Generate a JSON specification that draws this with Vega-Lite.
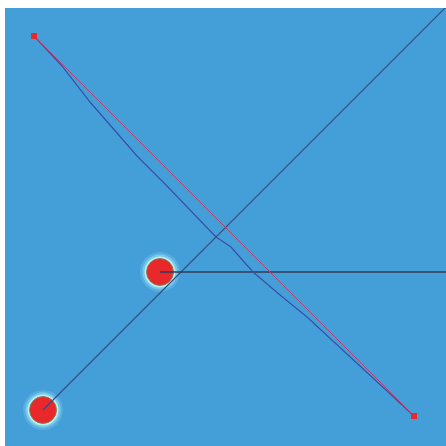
{
  "$schema": "https://vega.github.io/schema/vega-lite/v6.json",
  "width": 441,
  "height": 438,
  "autosize": {"type": "none"},
  "padding": {"left": 5, "top": 8, "right": 0, "bottom": 0},
  "background": "white",
  "config": {"view": {"fill": "#449FD9", "stroke": null}},
  "datasets": {
    "nodes": [
      {"name": "a", "x": 155, "y": 174},
      {"name": "b", "x": 38, "y": 36}
    ],
    "ends": [
      {"x": 29, "y": 410},
      {"x": 409, "y": 30}
    ],
    "track": [
      {"x": 29, "y": 410},
      {"x": 57, "y": 380},
      {"x": 85, "y": 344},
      {"x": 105, "y": 321},
      {"x": 132, "y": 290},
      {"x": 162, "y": 260},
      {"x": 185, "y": 236},
      {"x": 211, "y": 209},
      {"x": 226, "y": 199},
      {"x": 248, "y": 174},
      {"x": 275, "y": 151},
      {"x": 302, "y": 129},
      {"x": 355, "y": 80},
      {"x": 409, "y": 30}
    ],
    "diag": [
      {"x": 38, "y": 36},
      {"x": 441, "y": 439}
    ],
    "horiz": [
      {"x": 155, "y": 174},
      {"x": 441, "y": 174}
    ]
  },
  "encoding": {
    "x": {"field": "x", "type": "quantitative", "scale": {"domain": [0, 441]}, "axis": null},
    "y": {"field": "y", "type": "quantitative", "scale": {"domain": [0, 438]}, "axis": null}
  },
  "layer": [
    {
      "data": {"name": "nodes"},
      "mark": {"type": "circle", "size": 1600, "color": "#7FD0EE", "opacity": 0.3}
    },
    {
      "data": {"name": "nodes"},
      "mark": {"type": "circle", "size": 1250, "color": "#9EE2F2", "opacity": 0.5}
    },
    {
      "data": {"name": "nodes"},
      "mark": {"type": "circle", "size": 960, "color": "#C4F2F6", "opacity": 0.85}
    },
    {
      "data": {"name": "nodes"},
      "mark": {"type": "circle", "size": 720, "color": "#E8282A", "opacity": 1, "stroke": "#8A7A48", "strokeWidth": 1}
    },
    {
      "data": {"name": "diag"},
      "mark": {"type": "line", "color": "#2E4C82", "strokeWidth": 1.1, "clip": true}
    },
    {
      "data": {"name": "horiz"},
      "mark": {"type": "line", "color": "#333A58", "strokeWidth": 1.6, "clip": true}
    },
    {
      "data": {"name": "track"},
      "mark": {"type": "line", "color": "#3B4FA6", "strokeWidth": 1.2}
    },
    {
      "data": {"name": "ends"},
      "mark": {"type": "line", "color": "#B8406E", "strokeWidth": 1}
    },
    {
      "data": {"name": "ends"},
      "mark": {"type": "square", "size": 36, "color": "#E8282A", "opacity": 1}
    }
  ]
}
